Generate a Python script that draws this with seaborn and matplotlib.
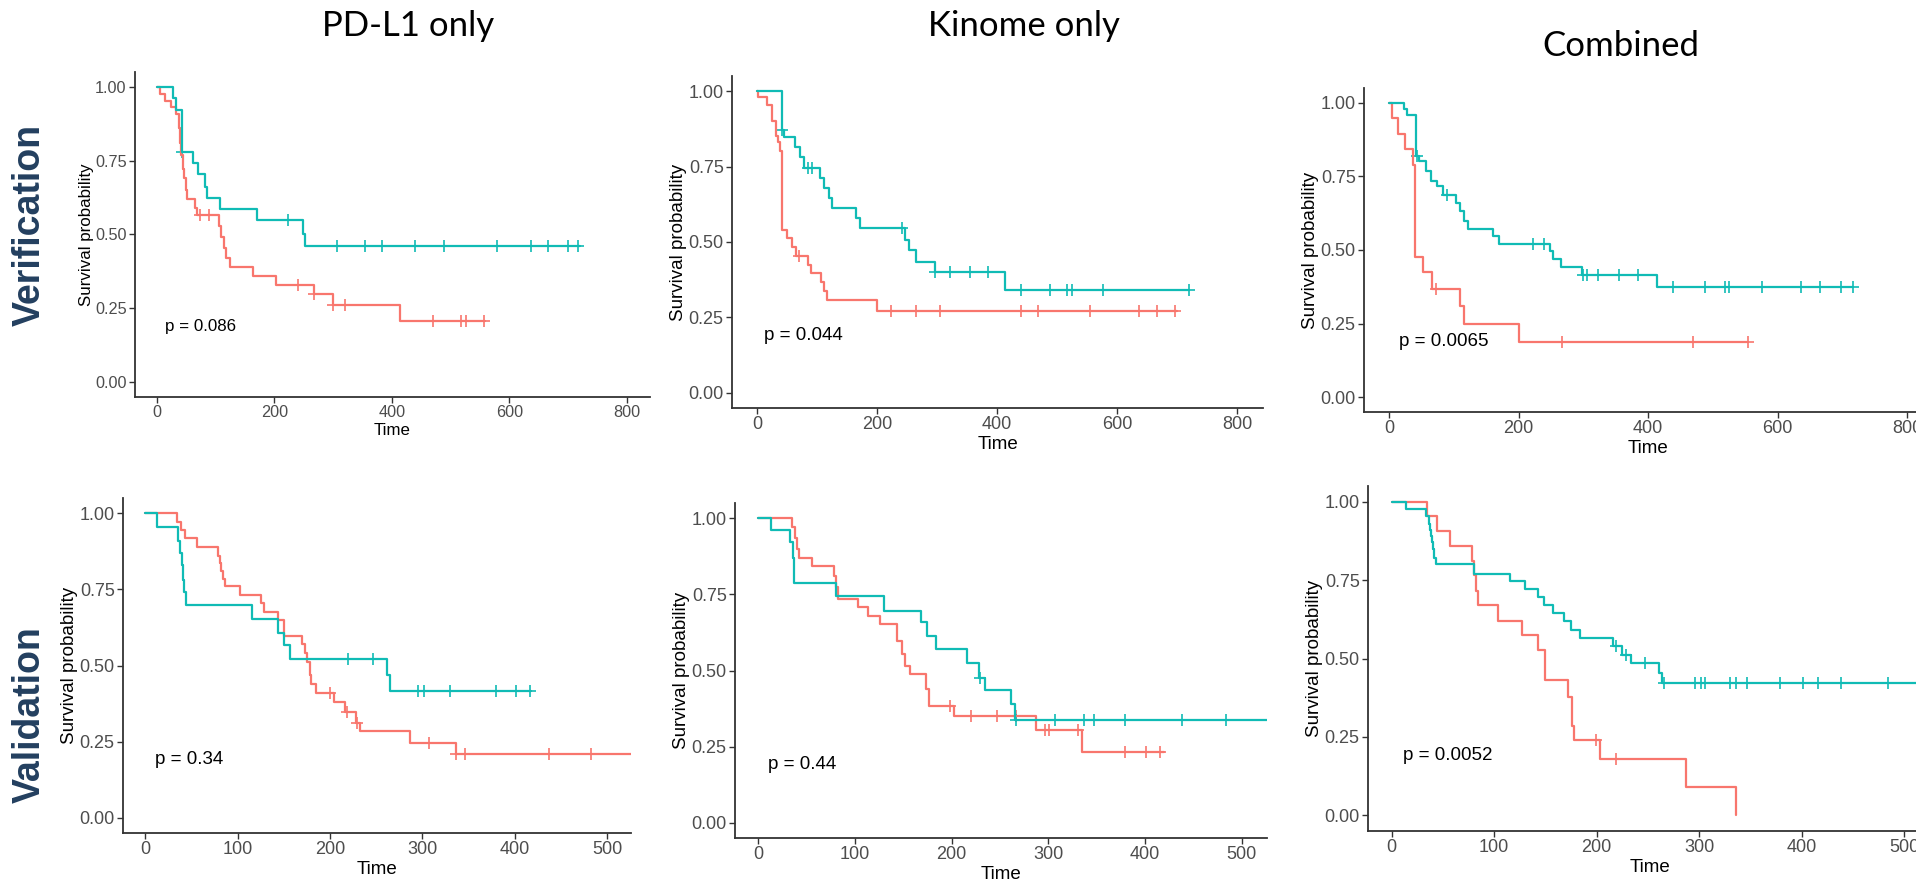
import numpy as np
import matplotlib
matplotlib.use('Agg')
import matplotlib.pyplot as plt
import seaborn as sns

sns.set_theme(style='white')
plt.rcParams['font.family'] = ['Liberation Sans', 'DejaVu Sans']

RED = '#F8766D'
TEAL = '#10BBB5'

# ---- data: (time, survival) steps + censor times ----
# Verification / PD-L1 only
v_pdl1_red_t = [0, 5, 14, 24, 32, 38, 40, 42, 44, 47, 50, 52, 65, 68, 106, 110, 114, 118, 125, 163, 203, 267, 300, 414, 558]
v_pdl1_red_s = [1.0, .977, .953, .93, .907, .86, .81, .77, .72, .69, .65, .62, .59, .565, .53, .49, .455, .42, .39, .36, .33, .298, .26, .207, .207]
v_pdl1_red_c = [73, 89, 240, 267, 300, 320, 470, 518, 526, 557]
v_pdl1_teal_t = [0, 27, 32, 43, 61, 70, 82, 86, 107, 170, 248, 252, 720]
v_pdl1_teal_s = [1.0, .962, .923, .78, .742, .706, .662, .625, .585, .549, .50, .462, .462]
v_pdl1_teal_c = [43, 224, 307, 355, 383, 440, 488, 578, 637, 666, 700, 717]

# Verification / Kinome only
v_kin_red_t = [0, 2, 17, 25, 31, 34, 38, 42, 50, 58, 65, 84, 89, 106, 111, 116, 200, 700]
v_kin_red_s = [1.0, .98, .955, .90, .85, .83, .80, .54, .513, .485, .454, .424, .397, .367, .336, .309, .273, .273]
v_kin_red_c = [70, 223, 265, 305, 439, 468, 555, 637, 666, 696]
v_kin_teal_t = [0, 41, 44, 63, 72, 78, 104, 112, 119, 124, 164, 171, 246, 253, 264, 296, 413, 720]
v_kin_teal_s = [1.0, .871, .847, .816, .783, .744, .711, .678, .645, .614, .579, .545, .507, .474, .435, .40, .342, .342]
v_kin_teal_c = [42, 85, 92, 241, 297, 321, 355, 384, 439, 488, 517, 524, 577, 719]

# Verification / Combined
v_comb_red_t = [0, 4, 14, 25, 37, 40, 52, 67, 109, 116, 201, 554]
v_comb_red_s = [1.0, .949, .893, .842, .79, .475, .424, .367, .311, .249, .186, .186]
v_comb_red_c = [73, 267, 469, 554]
v_comb_teal_t = [0, 23, 28, 41, 47, 57, 65, 74, 84, 103, 109, 116, 122, 160, 170, 249, 254, 265, 298, 414, 717]
v_comb_teal_s = [1.0, .98, .96, .82, .802, .768, .734, .717, .687, .661, .632, .599, .571, .548, .522, .495, .471, .443, .416, .376, .376]
v_comb_teal_c = [44, 89, 223, 239, 300, 306, 322, 355, 384, 438, 488, 519, 525, 576, 636, 665, 698, 716]

# Validation / PD-L1 only
w_pdl1_red_t = [0, 35, 39, 43, 56, 79, 81, 82, 84, 86, 103, 125, 129, 144, 150, 170, 173, 175, 178, 180, 185, 204, 216, 228, 233, 287, 336, 526]
w_pdl1_red_s = [1.0, .97, .945, .918, .89, .86, .835, .81, .785, .761, .732, .704, .677, .65, .598, .57, .54, .51, .47, .439, .409, .381, .346, .312, .285, .246, .208, .208]
w_pdl1_red_c = [200, 219, 229, 307, 337, 346, 437, 483]
w_pdl1_teal_t = [0, 13, 36, 38, 40, 41, 42, 44, 116, 144, 150, 157, 262, 265, 418]
w_pdl1_teal_s = [1.0, .956, .91, .87, .83, .78, .74, .699, .652, .608, .567, .521, .469, .416, .416]
w_pdl1_teal_c = [220, 247, 295, 302, 330, 380, 401, 417]

# Validation / Kinome only
w_kin_red_t = [0, 35, 38, 40, 42, 56, 78, 80, 82, 103, 114, 126, 143, 149, 152, 157, 173, 177, 202, 287, 335, 419]
w_kin_red_s = [1.0, .97, .935, .90, .87, .844, .81, .775, .736, .708, .68, .653, .598, .555, .515, .488, .438, .383, .352, .306, .231, .231]
w_kin_red_c = [198, 220, 247, 266, 296, 301, 331, 379, 401, 415]
w_kin_teal_t = [0, 13, 33, 36, 37, 80, 130, 168, 175, 184, 216, 228, 234, 261, 265, 527]
w_kin_teal_s = [1.0, .961, .923, .87, .787, .745, .697, .659, .612, .571, .526, .477, .435, .39, .338, .338]
w_kin_teal_c = [229, 266, 307, 337, 347, 379, 438, 484]

# Validation / Combined
w_comb_red_t = [0, 35, 44, 57, 78, 80, 82, 84, 104, 127, 143, 150, 172, 176, 178, 203, 287, 336]
w_comb_red_s = [1.0, .954, .908, .858, .81, .765, .715, .67, .62, .576, .528, .432, .378, .285, .24, .179, .09, 0.0]
w_comb_red_c = [199, 219]
w_comb_teal_t = [0, 14, 34, 36, 37, 38, 39, 40, 41, 43, 80, 115, 130, 143, 149, 157, 168, 175, 184, 216, 225, 233, 261, 264, 526]
w_comb_teal_s = [1.0, .978, .955, .93, .91, .89, .87, .85, .82, .80, .771, .746, .722, .696, .672, .645, .618, .592, .565, .54, .512, .485, .455, .421, .421]
w_comb_teal_c = [219, 229, 247, 266, 296, 302, 306, 330, 336, 347, 379, 401, 416, 438, 484]

p_labels = ['p = 0.086', 'p = 0.044', 'p = 0.0065', 'p = 0.34', 'p = 0.44', 'p = 0.0052']
col_titles = ['PD-L1 only', 'Kinome only', 'Combined']
row_titles = ['Verification', 'Validation']
top_xticks = [0, 200, 400, 600, 800]
bottom_xticks = [0, 100, 200, 300, 400, 500]
yticks = [0.0, 0.25, 0.50, 0.75, 1.0]

W, H = 1916, 884


def surv_at(t, s, c):
    idx = np.searchsorted(np.asarray(t), np.asarray(c), side='right') - 1
    return np.asarray(s)[idx]


def add_panel(fig, box, xlim, xticks, red, teal, ptext, px, fs=1.0):
    x0, x1, y0, y1 = box
    ax = fig.add_axes([x0 / W, 1 - y1 / H, (x1 - x0) / W, (y1 - y0) / H])
    for (t, s, c), col in ((red, RED), (teal, TEAL)):
        sns.lineplot(x=t, y=s, drawstyle='steps-post', estimator=None, sort=False,
                     color=col, linewidth=1.6, ax=ax)
        sns.scatterplot(x=c, y=surv_at(t, s, c), marker='+', s=70, linewidth=1.2,
                        color=col, ax=ax)
    ax.set_xlim(*xlim)
    ax.set_ylim(-0.05, 1.05)
    ax.set_xticks(xticks)
    ax.set_yticks(yticks)
    ax.set_yticklabels([f'{v:.2f}' for v in yticks])
    ax.tick_params(axis='both', direction='out', length=4, width=1, color='#333333',
                   labelsize=13 * fs, labelcolor='#4D4D4D', pad=2, bottom=True, left=True)
    sns.despine(ax=ax)
    for sp in ('left', 'bottom'):
        ax.spines[sp].set_color('#333333')
        ax.spines[sp].set_linewidth(1.3)
    ax.set_xlabel('Time', fontsize=13.5 * fs, color='black', labelpad=2)
    ax.set_ylabel('Survival probability', fontsize=13.5 * fs, color='black', labelpad=1)
    ax.text(px, 0.19, ptext, fontsize=13.5 * fs, ha='left', va='center', color='black')
    ax.set_facecolor('none')
    return ax


fig = plt.figure(figsize=(W / 100, H / 100), dpi=100)

panels = [
    ((135, 650, 72, 397), (-37, 839), top_xticks,
     (v_pdl1_red_t, v_pdl1_red_s, v_pdl1_red_c), (v_pdl1_teal_t, v_pdl1_teal_s, v_pdl1_teal_c), 14, 0.9),
    ((732, 1263, 76, 408), (-42, 843), top_xticks,
     (v_kin_red_t, v_kin_red_s, v_kin_red_c), (v_kin_teal_t, v_kin_teal_s, v_kin_teal_c), 12, 1.0),
    ((1364, 1933, 88, 412), (-38.6, 840), top_xticks,
     (v_comb_red_t, v_comb_red_s, v_comb_red_c), (v_comb_teal_t, v_comb_teal_s, v_comb_teal_c), 16, 1.0),
    ((123, 631, 498, 833), (-24, 526), bottom_xticks,
     (w_pdl1_red_t, w_pdl1_red_s, w_pdl1_red_c), (w_pdl1_teal_t, w_pdl1_teal_s, w_pdl1_teal_c), 11, 1.0),
    ((735, 1267, 503, 838), (-24, 526), bottom_xticks,
     (w_kin_red_t, w_kin_red_s, w_kin_red_c), (w_kin_teal_t, w_kin_teal_s, w_kin_teal_c), 10.5, 1.0),
    ((1368, 1931, 486, 831), (-23, 526), bottom_xticks,
     (w_comb_red_t, w_comb_red_s, w_comb_red_c), (w_comb_teal_t, w_comb_teal_s, w_comb_teal_c), 11, 1.0),
]

for i, (box, xlim, xt, red, teal, px, fs) in enumerate(panels):
    add_panel(fig, box, xlim, xt, red, teal, p_labels[i], px, fs)

# column headers
for txt, cx, cy in zip(col_titles, [408, 1024, 1621], [26, 26, 46]):
    fig.text(cx / W, 1 - cy / H, txt, fontsize=25, ha='center', va='center',
             family=['Lato', 'DejaVu Sans'], color='black')

# row headers
for txt, cy in zip(row_titles, [225, 715]):
    fig.text(30 / W, 1 - cy / H, txt, fontsize=27, fontweight='bold', rotation=90,
             ha='center', va='center', color='#233F5F')

fig.savefig('out.png', dpi=100)
